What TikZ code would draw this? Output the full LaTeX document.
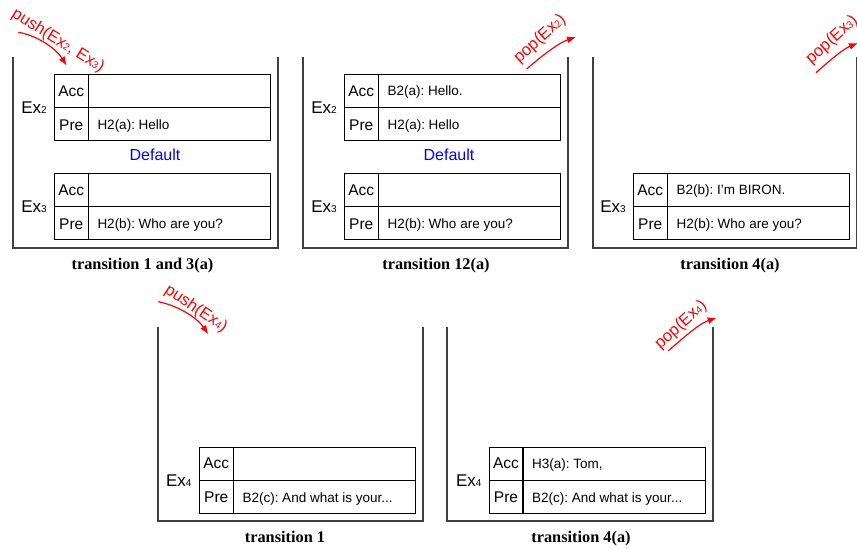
\documentclass[tikz,border=0pt]{standalone}
\usepackage{fontspec}
\setmainfont{Liberation Serif}
\newfontfamily\arialfont{Liberation Sans}
\usetikzlibrary{arrows.meta}
\frenchspacing
\newcommand{\fsz}[1]{\fontsize{#1}{#1}\selectfont}
\newcommand{\exname}[1]{Ex{\fsz{10}#1}}
\newcommand{\pexname}[1]{Ex{\fsz{10}#1}}
\tikzset{
  wall/.style={draw=black!75, line width=1.3pt},
  tbl/.style={draw=black, line width=1.1pt, minimum width=216pt, minimum height=66pt, anchor=north west, inner sep=0pt},
  rowlab/.style={font=\arialfont\fsz{15.5}, text height=11pt, text depth=0pt, inner sep=0pt, anchor=center},
  rowtxt/.style={font=\arialfont\fsz{13.5}, text height=9.7pt, text depth=0pt, inner sep=0pt, anchor=west},
  exlab/.style={font=\arialfont\fsz{17}, text height=12.2pt, text depth=0pt, inner sep=0pt, anchor=center},
  deflab/.style={font=\arialfont\fsz{16}, text=blue, text height=11.5pt, text depth=0pt, inner sep=0pt, anchor=center},
  captxt/.style={font=\bfseries\fsz{16.3}, text height=11pt, text depth=0pt, inner sep=0pt, anchor=center},
  optxt/.style={font=\arialfont\fsz{16.5}, text=red, inner sep=0pt, anchor=center},
  oparrow/.style={draw=red, line width=1.2pt, -{Latex[length=9pt,width=7pt]}},
}
% #1 name, #2 x, #3 y(top), #4 acc text, #5 pre text
\newcommand{\extable}[5]{%
  \node[tbl] (#1) at (#2,#3) {};
  \draw[line width=1.1pt] (#1.west) -- (#1.east);
  \coordinate (#1-dt) at ([xshift=34pt]#1.north west);
  \coordinate (#1-db) at ([xshift=34pt]#1.south west);
  \draw[line width=1.1pt] (#1-dt) -- (#1-db);
  \node[rowlab] (#1-accl) at ([xshift=17pt,yshift=-16.5pt]#1.north west) {Acc};
  \node[rowlab] (#1-prel) at ([xshift=17pt,yshift=16.5pt]#1.south west) {Pre};
  \node[rowtxt] (#1-acct) at ([xshift=43pt,yshift=-16.5pt]#1.north west) {#4};
  \node[rowtxt] (#1-pret) at ([xshift=43pt,yshift=16.5pt]#1.south west) {#5};
}
\begin{document}
\begin{tikzpicture}[x=1pt,y=-1pt]
\useasboundingbox (0,0) rectangle (857,549);

% ---------- panel 1 ----------
\draw[wall] (13,57) -- (13,248) -- (278,248) -- (278,57);
\extable{pa}{54.3}{74}{}{H2(a): Hello}
\node[exlab] (pa-ex) at (34,107) {\exname{2}};
\node[deflab] (pa-def) at (155,155) {Default};
\extable{pb}{54.3}{173}{}{H2(b): Who are you?}
\node[exlab] (pb-ex) at (34,206) {\exname{3}};
\node[captxt] (cap1) at (142.5,264) {transition 1 and 3(a)};
\coordinate (push1s) at (18.3,32.3);
\coordinate (push1e) at (66.7,65.7);
\draw[oparrow] (push1s) .. controls (35,35) and (55,47) .. (push1e);
\node[optxt, rotate=-32] (push1t) at (58,41) {push(\pexname{2}, \pexname{3})};

% ---------- panel 2 ----------
\draw[wall] (303,57) -- (303,248) -- (568,248) -- (568,57);
\extable{pc}{344.3}{74}{B2(a): Hello.}{H2(a): Hello}
\node[exlab] (pc-ex) at (324,107) {\exname{2}};
\node[deflab] (pc-def) at (449,155) {Default};
\extable{pd}{344.3}{173}{}{H2(b): Who are you?}
\node[exlab] (pd-ex) at (324,206) {\exname{3}};
\node[captxt] (cap2) at (436,264) {transition 12(a)};
\coordinate (pop2s) at (526.7,69);
\coordinate (pop2e) at (576,37);
\draw[oparrow] (pop2s) .. controls (538,59) and (558,43) .. (pop2e);
\node[optxt, rotate=42] (pop2t) at (540,39) {pop(\pexname{2})};

% ---------- panel 3 ----------
\draw[wall] (593,57) -- (593,248) -- (856.7,248) -- (856.7,57);
\extable{pe}{633.3}{173}{B2(b): I’m BIRON.}{H2(b): Who are you?}
\node[exlab] (pe-ex) at (613,206) {\exname{3}};
\node[captxt] (cap3) at (730,264) {transition 4(a)};
\coordinate (pop3s) at (816,72.7);
\coordinate (pop3e) at (858,43);
\draw[oparrow] (pop3s) .. controls (828,62) and (843,49) .. (pop3e);
\node[optxt, rotate=42] (pop3t) at (832,40) {pop(\pexname{3})};

% ---------- panel 4 ----------
\draw[wall] (158,327) -- (158,521) -- (423,521) -- (423,327);
\extable{pf}{199.3}{446.7}{}{B2(c): And what is your...}
\node[exlab] (pf-ex) at (178.7,480) {\exname{4}};
\node[captxt] (cap4) at (285,537) {transition 1};
\coordinate (push4s) at (158.3,301.7);
\coordinate (push4e) at (208.3,334.3);
\draw[oparrow] (push4s) .. controls (175,305) and (196,316) .. (push4e);
\node[optxt, rotate=-34] (push4t) at (196,309) {push(\pexname{4})};

% ---------- panel 5 ----------
\draw[wall] (447,327) -- (447,521) -- (713,521) -- (713,327);
\extable{pg}{489}{446.7}{H3(a): Tom,}{B2(c): And what is your...}
\node[exlab] (pg-ex) at (468.7,480) {\exname{4}};
\node[captxt] (cap5) at (581,537) {transition 4(a)};
\coordinate (pop5s) at (668.3,350.7);
\coordinate (pop5e) at (716.7,317.7);
\draw[oparrow] (pop5s) .. controls (680,341) and (698,324) .. (pop5e);
\node[optxt, rotate=42] (pop5t) at (681,325) {pop(\pexname{4})};
\end{tikzpicture}
\end{document}
